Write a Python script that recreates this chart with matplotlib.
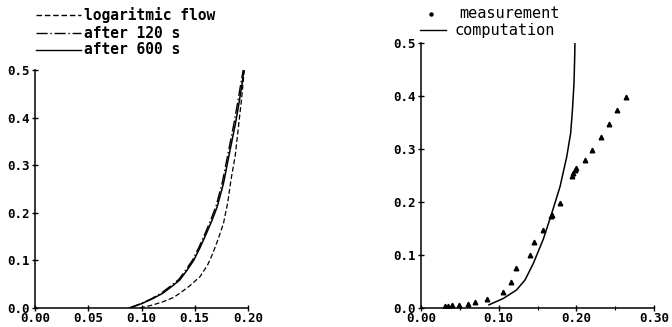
import matplotlib
matplotlib.use("Agg")
import matplotlib.pyplot as plt
from matplotlib.lines import Line2D
from matplotlib.ticker import MultipleLocator, FormatStrFormatter

# ---------------- data (left panel) ----------------
log_x = [0.0986, 0.110, 0.120, 0.130, 0.136, 0.145, 0.155, 0.162, 0.167, 0.172, 0.177, 0.181, 0.184, 0.188, 0.191, 0.194, 0.1965]
log_y = [0.000, 0.006, 0.013, 0.022, 0.031, 0.046, 0.066, 0.090, 0.115, 0.145, 0.178, 0.222, 0.269, 0.320, 0.380, 0.440, 0.500]

t120_x = [0.0885, 0.099, 0.109, 0.119, 0.129, 0.135, 0.141, 0.148, 0.154, 0.160, 0.165, 0.170, 0.176, 0.182, 0.187, 0.190, 0.193, 0.1955]
t120_y = [0.000, 0.009, 0.019, 0.032, 0.049, 0.060, 0.078, 0.101, 0.128, 0.158, 0.185, 0.214, 0.265, 0.333, 0.390, 0.428, 0.468, 0.500]

t600_x = [0.089, 0.100, 0.110, 0.120, 0.130, 0.136, 0.142, 0.149, 0.155, 0.161, 0.166, 0.171, 0.177, 0.183, 0.188, 0.191, 0.194, 0.196]
t600_y = [0.000, 0.009, 0.019, 0.031, 0.048, 0.059, 0.077, 0.100, 0.127, 0.157, 0.183, 0.212, 0.262, 0.330, 0.385, 0.423, 0.465, 0.497]

left_legend = ["logaritmic flow", "after 120 s", "after 600 s"]

# ---------------- data (right panel) ----------------
meas_x = [0.031, 0.035, 0.0395, 0.049, 0.060, 0.0695, 0.0846, 0.106, 0.116, 0.122, 0.140, 0.1455,
          0.157, 0.167, 0.169, 0.179, 0.195, 0.196, 0.198, 0.200, 0.211, 0.2197, 0.2313, 0.2416, 0.252, 0.2635]
meas_y = [0.004, 0.004, 0.005, 0.006, 0.007, 0.012, 0.017, 0.031, 0.050, 0.075, 0.100, 0.125,
          0.148, 0.174, 0.175, 0.199, 0.250, 0.255, 0.260, 0.265, 0.279, 0.298, 0.323, 0.348, 0.374, 0.399]

comp_x = [0.0875, 0.106, 0.123, 0.134, 0.1446, 0.1575, 0.168, 0.179, 0.1876, 0.1927, 0.195, 0.197, 0.198, 0.1982]
comp_y = [0.006, 0.018, 0.034, 0.053, 0.084, 0.130, 0.177, 0.229, 0.285, 0.330, 0.374, 0.424, 0.480, 0.500]

right_legend = ["measurement", "computation"]

# ---------------- figure ----------------
W, H = 672, 327
fig = plt.figure(figsize=(W / 100, H / 100), dpi=100)
FONT = "DejaVu Sans Mono"
tick_fs = 9


def fx(px):
    return px / W


def fy(py):
    return 1 - py / H


def style_axes(ax):
    for s in ("top", "right"):
        ax.spines[s].set_visible(False)
    for s in ("left", "bottom"):
        ax.spines[s].set_linewidth(1.1)
    ax.tick_params(axis="both", which="major", direction="inout", length=5, width=1.0,
                   labelsize=tick_fs)
    ax.tick_params(axis="x", which="major", pad=0.5)
    ax.tick_params(axis="y", which="major", pad=1.5)
    for lab in ax.get_xticklabels() + ax.get_yticklabels():
        lab.set_fontfamily(FONT)
        lab.set_fontweight("bold")


# Left axes: x 35..248 px, y 308..70 px
axL = fig.add_axes([fx(35), fy(308), (248 - 35) / W, (308 - 70) / H])
axL.plot(log_x, log_y, color="black", lw=0.9, dashes=(4, 2))
axL.plot(t120_x, t120_y, color="black", lw=1.0, dashes=(8, 2, 1, 2))
axL.plot(t600_x, t600_y, color="black", lw=1.1)
axL.set_xlim(0, 0.2)
axL.set_ylim(0, 0.5)
axL.xaxis.set_major_locator(MultipleLocator(0.05))
axL.yaxis.set_major_locator(MultipleLocator(0.1))
axL.xaxis.set_major_formatter(FormatStrFormatter("%.2f"))
axL.yaxis.set_major_formatter(FormatStrFormatter("%.1f"))
style_axes(axL)

# Right axes: x 421..654 px, y 308..43 px
axR = fig.add_axes([fx(421), fy(308), (654 - 421) / W, (308 - 43) / H])
axR.plot(meas_x, meas_y, linestyle="none", marker="^", markersize=3.3, color="black")
axR.plot(comp_x, comp_y, color="black", lw=1.1)
axR.set_xlim(0, 0.3)
axR.set_ylim(0, 0.5)
axR.xaxis.set_major_locator(MultipleLocator(0.1))
axR.xaxis.set_minor_locator(MultipleLocator(0.05))
axR.yaxis.set_major_locator(MultipleLocator(0.1))
axR.xaxis.set_major_formatter(FormatStrFormatter("%.2f"))
axR.yaxis.set_major_formatter(FormatStrFormatter("%.1f"))
axR.tick_params(axis="x", which="minor", direction="inout", length=3, width=0.8)
style_axes(axR)

# ---------------- left legend ----------------
leg_styles = [dict(dashes=(4, 2)), dict(dashes=(8, 2, 1, 2)), dict()]
leg_rows = [15, 33, 50]
for label, st, ry in zip(left_legend, leg_styles, leg_rows):
    ln = Line2D([fx(36), fx(81)], [fy(ry), fy(ry)], transform=fig.transFigure,
                color="black", lw=1.0, **st)
    fig.add_artist(ln)
    fig.text(fx(84), fy(ry), label, fontsize=10.5, fontfamily=FONT, fontweight="bold",
             ha="left", va="center")

# ---------------- right legend ----------------
fig.add_artist(Line2D([fx(431)], [fy(14)], transform=fig.transFigure, marker="o",
                      markersize=2.2, color="black", linestyle="none"))
fig.text(fx(459), fy(14), right_legend[0], fontsize=11, fontfamily=FONT,
         ha="left", va="center")
fig.add_artist(Line2D([fx(420), fx(446)], [fy(30), fy(30)], transform=fig.transFigure,
                      color="black", lw=1.0))
fig.text(fx(455), fy(31), right_legend[1], fontsize=11, fontfamily=FONT,
         ha="left", va="center")

fig.savefig("out.png", dpi=100)
